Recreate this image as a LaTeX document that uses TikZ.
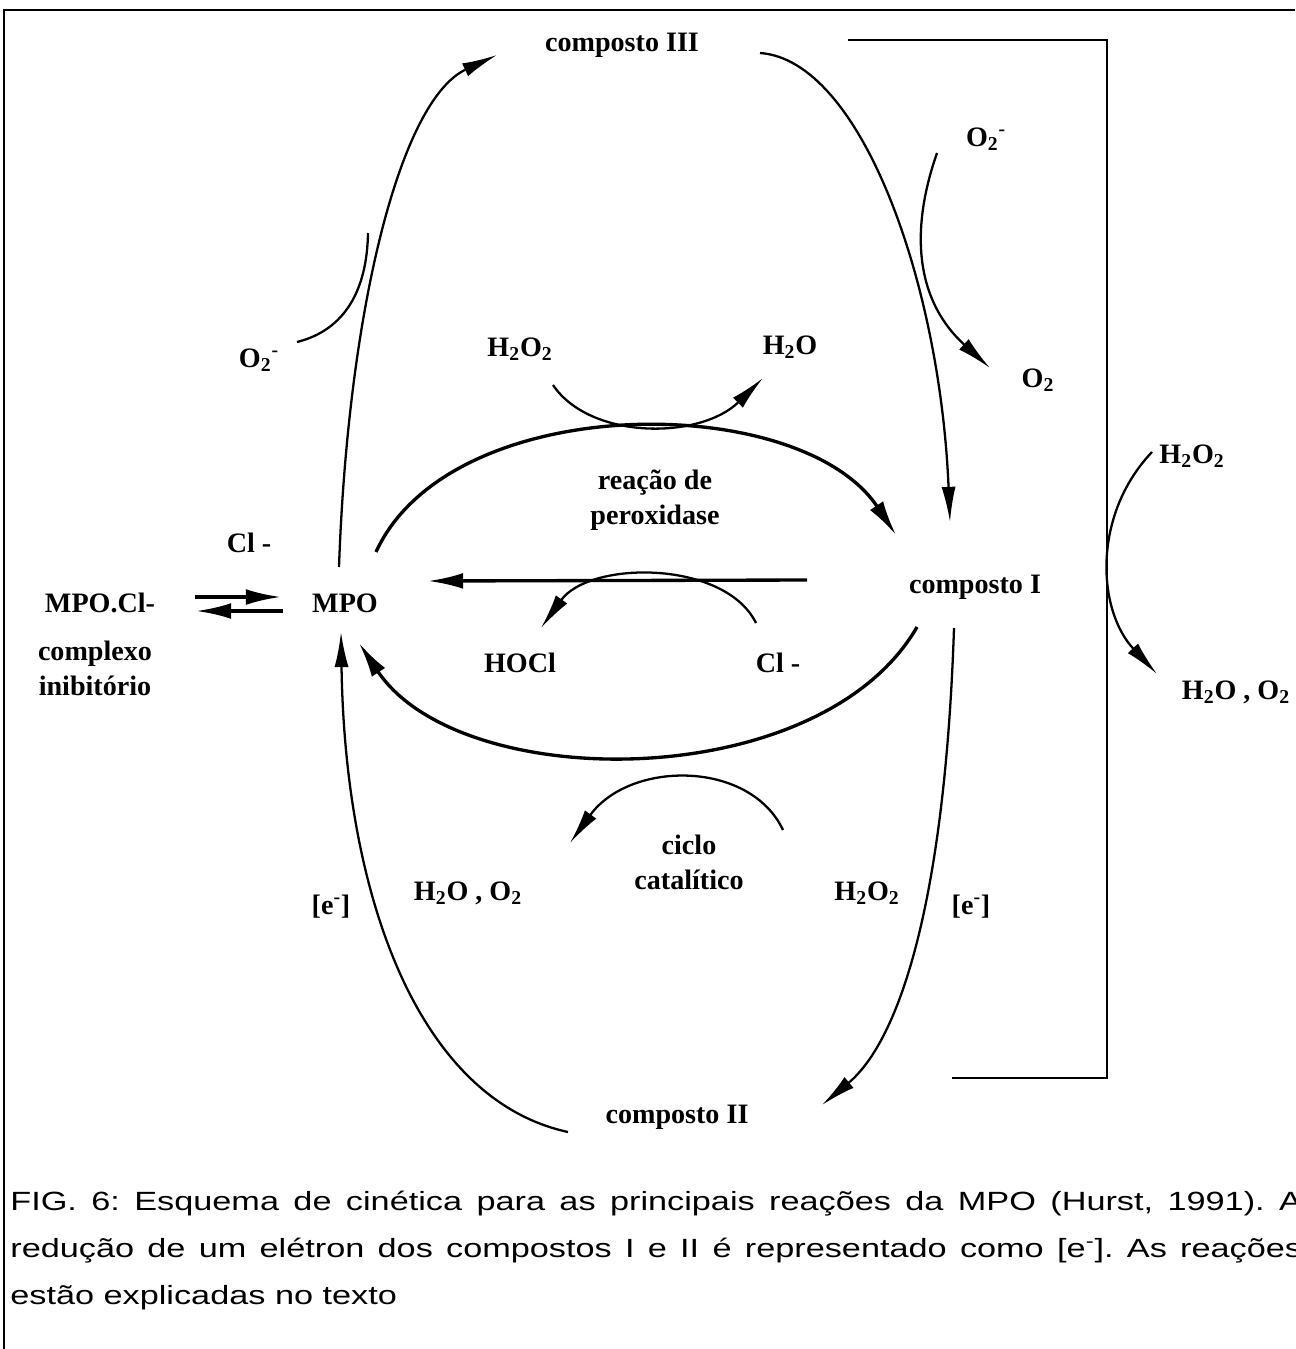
\documentclass[tikz,border=0pt]{standalone}
\usepackage{fontspec}
\setmainfont{Liberation Serif}
\newfontfamily\capfont[FakeStretch=1.3]{Liberation Sans}
\usetikzlibrary{arrows.meta, positioning}

\tikzset{
    species/.style={font=\bfseries\fontsize{16}{20}\selectfont, inner sep=1pt, align=center},
    caption/.style={font=\capfont\fontsize{15}{20}\selectfont, inner sep=0pt, anchor=base west},
    reaction/.style={line width=1.3pt, -{Latex[length=20pt,width=8pt]}},
    strong/.style={line width=1.9pt, -{Latex[length=20pt,width=9pt]}},
    side/.style={line width=1.3pt}
}

\newcommand{\Otwominus}{O\textsubscript{2}\textsuperscript{-}}

\begin{document}
\frenchspacing
\begin{tikzpicture}[x=0.02cm, y=-0.02cm]
    \useasboundingbox (0,0) rectangle (1295,1349);

    % --- Frame and bracket ---
    \draw[line width=1.4pt] (4,1349) -- (4,10) -- (1295,10);
    \draw[line width=1.3pt] (848,40) -- (1107,40) -- (1107,1078) -- (952,1078);

    % --- Main species ---
    \node[species] (c3) at (622,45) {composto III};
    \node[species] (c1) at (975,587) {composto I};
    \node[species] (c2) at (677,1117) {composto II};
    \node[species] (mpo) at (345,603) {MPO};
    \node[species] (mpocl) at (100,603) {MPO.Cl-};
    \node[species] (complexo) at (95,668) {complexo\\inibitório};

    % --- Small labels ---
    \node[species] (clA) at (249,543) {Cl -};
    \node[species] (o2a) at (259,360) {\Otwominus};
    \node[species] (h2o2a) at (520,349) {H\textsubscript{2}O\textsubscript{2}};
    \node[species] (h2oa) at (790,347) {H\textsubscript{2}O};
    \node[species] (o2b) at (986,139) {\Otwominus};
    \node[species] (o2c) at (1038,380) {O\textsubscript{2}};
    \node[species] (perox) at (655,500) {reação de\\peroxidase};
    \node[species] (hocl) at (520,663) {HOCl};
    \node[species] (clB) at (778,663) {Cl -};
    \node[species] (h2o2b) at (1192,456) {H\textsubscript{2}O\textsubscript{2}};
    \node[species] (h2oo2a) at (1236,692) {H\textsubscript{2}O , O\textsubscript{2}};
    \node[species] (ciclo) at (689,862) {ciclo\\catalítico};
    \node[species] (h2oo2b) at (468,893) {H\textsubscript{2}O , O\textsubscript{2}};
    \node[species] (h2o2c) at (867,893) {H\textsubscript{2}O\textsubscript{2}};
    \node[species] (ea) at (331,907) {[e\textsuperscript{-}]};
    \node[species] (eb) at (971,907) {[e\textsuperscript{-}]};

    % --- End points of the connectors ---
    \coordinate (mpoN) at (339,567);
    \coordinate (mpoS) at (341,632);
    \coordinate (mpoE) at (428,581);
    \coordinate (mpoNE) at (376,552);
    \coordinate (mpoSE) at (359,643);
    \coordinate (c3W) at (497,55);
    \coordinate (c3E) at (760,53);
    \coordinate (c1N) at (950,522);
    \coordinate (c1NW) at (896,535);
    \coordinate (c1W) at (807,580);
    \coordinate (c1SW) at (917,627);
    \coordinate (c1S) at (954,628);
    \coordinate (c2E) at (822,1105);
    \coordinate (c2W) at (568,1132);

    % --- Outer cycle ---
    \draw[reaction] (mpoN) .. controls (348,310) and (400,100) .. (c3W);
    \draw[reaction] (c3E) .. controls (860,60) and (940,280) .. (c1N);
    \draw[reaction] (c1S) .. controls (945,900) and (900,1040) .. (c2E);
    \draw[reaction] (c2W) .. controls (420,1100) and (345,900) .. (mpoS);

    % --- Side reactants ---
    \draw[side] (297,342) .. controls (345,330) and (367,290) .. (368,233);
    \draw[reaction] (937,153) .. controls (910,230) and (915,300) .. (990,368);
    \draw[reaction] (553,385) .. controls (590,440) and (700,440) .. (763,378);
    \draw[reaction] (756,623) .. controls (725,560) and (590,560) .. (541,628);
    \draw[reaction] (783,830) .. controls (750,760) and (630,760) .. (570,843);
    \draw[reaction] (1152,452) .. controls (1092,515) and (1097,610) .. (1157,674);

    % --- Inner cycle ---
    \draw[strong] (mpoNE) .. controls (450,390) and (800,390) .. (c1NW);
    \draw[strong] (c1W) -- (mpoE);
    \draw[strong] (c1SW) .. controls (820,795) and (460,795) .. (mpoSE);

    % --- Inhibitory complex ---
    \draw[strong] (195,597) -- (281,597);
    \draw[strong] (283,611) -- (196,611);

    % --- Caption ---
    \node[caption] (cap1) at (10,1210) {\makebox[25.84cm][s]{FIG. 6: Esquema de cinética para as principais reações da MPO (Hurst, 1991). A}};
    \node[caption] (cap2) at (10,1257) {\makebox[25.84cm][s]{redução de um elétron dos compostos I e II é representado como [e\textsuperscript{-}]. As reações}};
    \node[caption] (cap3) at (10,1304) {estão explicadas no texto};
\end{tikzpicture}
\end{document}
